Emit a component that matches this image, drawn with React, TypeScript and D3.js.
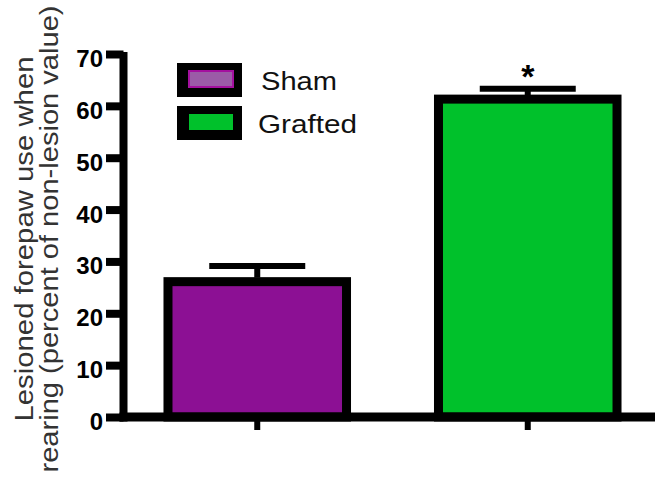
import { useRef, useEffect } from "react";
import * as d3 from "d3";

const groups = ["Sham", "Grafted"];
const values = [26.1, 61.3];
const errors = [3.0, 2.0];
const stars = ["", "*"];
const yTicks = [0, 10, 20, 30, 40, 50, 60, 70];
const barColors = ["#8c1094", "#00c12b"];
const swatchColors = ["#9b5ba7", "#00c12b"];
const titleLines = ["Lesioned forepaw use when", "rearing (percent of non-lesion value)"];

const width = 656;
const height = 484;
const font = "'Liberation Sans', Arial, Helvetica, sans-serif";

export default function App() {
  const root = useRef<SVGSVGElement>(null);

  const x = d3.scaleBand(groups, [122, 663]).paddingInner(0.34).paddingOuter(0.17);
  const y = d3.scaleLinear([0, 70], [417, 54]);

  useEffect(() => {
    const svg = d3.select(root.current);
    svg.selectAll("*").remove();

    // bars
    svg.append("g")
      .selectAll("rect")
      .data(groups)
      .enter()
      .append("rect")
      .attr("x", d => x(d)!)
      .attr("width", x.bandwidth())
      .attr("y", (d, i) => y(values[i]))
      .attr("height", (d, i) => y(0) - y(values[i]))
      .attr("fill", (d, i) => barColors[i])
      .attr("stroke", "#000")
      .attr("stroke-width", 9);

    // error bars
    const eb = svg.append("g").selectAll("g").data(groups).enter().append("g");
    eb.append("line")
      .attr("x1", d => x(d)! + x.bandwidth() / 2)
      .attr("x2", d => x(d)! + x.bandwidth() / 2)
      .attr("y1", (d, i) => y(values[i]) - 4)
      .attr("y2", (d, i) => y(values[i] + errors[i]))
      .attr("stroke", "#000")
      .attr("stroke-width", 6);
    eb.append("line")
      .attr("x1", d => x(d)! + x.bandwidth() / 2 - 48)
      .attr("x2", d => x(d)! + x.bandwidth() / 2 + 48)
      .attr("y1", (d, i) => y(values[i] + errors[i]))
      .attr("y2", (d, i) => y(values[i] + errors[i]))
      .attr("stroke", "#000")
      .attr("stroke-width", 6);
    eb.append("text")
      .attr("x", d => x(d)! + x.bandwidth() / 2)
      .attr("y", (d, i) => y(values[i] + errors[i]) - 1)
      .attr("text-anchor", "middle")
      .attr("font-family", font)
      .attr("font-weight", "bold")
      .attr("font-size", 34)
      .text((d, i) => stars[i]);

    // y axis
    const ya = svg.append("g")
      .attr("transform", "translate(123.5,0)")
      .call(d3.axisLeft(y).tickValues(yTicks).tickSize(17.5).tickSizeOuter(0).tickPadding(3));
    ya.select(".domain").remove();
    ya.selectAll(".tick line").attr("stroke", "#000").attr("stroke-width", 8);
    ya.selectAll(".tick text")
      .attr("font-family", font)
      .attr("font-weight", "bold")
      .attr("font-size", 24)
      .attr("fill", "#000")
      .attr("dy", "0.52em");
    svg.append("line")
      .attr("x1", 123.5).attr("x2", 123.5)
      .attr("y1", y(70) - 2).attr("y2", y(0) + 4.5)
      .attr("stroke", "#000").attr("stroke-width", 8);

    // x axis
    const xa = svg.append("g")
      .attr("transform", `translate(0,${y(0)})`)
      .call(d3.axisBottom(x).tickSize(13).tickFormat(() => ""));
    xa.select(".domain").remove();
    xa.selectAll(".tick line").attr("stroke", "#000").attr("stroke-width", 6);
    svg.append("line")
      .attr("x1", 119.5).attr("x2", 655)
      .attr("y1", y(0)).attr("y2", y(0))
      .attr("stroke", "#000").attr("stroke-width", 9);

    // y title
    const lens = [365, 467];
    svg.append("g")
      .selectAll("text")
      .data(titleLines)
      .enter()
      .append("text")
      .attr("transform", (d, i) => `translate(${33 + i * 25},239) rotate(-90)`)
      .attr("text-anchor", "middle")
      .attr("font-family", font)
      .attr("font-size", 26)
      .attr("fill", "#333")
      .attr("textLength", (d, i) => lens[i])
      .attr("lengthAdjust", "spacingAndGlyphs")
      .text(d => d);

    // legend
    const lg = svg.append("g").selectAll("g").data(groups).enter().append("g")
      .attr("transform", (d, i) => `translate(177,${63 + i * 43})`);
    lg.append("rect").attr("width", 65).attr("height", 34).attr("fill", "#000");
    lg.append("rect")
      .attr("x", 12).attr("y", 8).attr("width", 44).attr("height", 16)
      .attr("fill", (d, i) => swatchColors[i])
      .attr("stroke", (d, i) => (i === 0 ? "#a4109f" : "none"))
      .attr("stroke-width", 2);
    lg.append("text")
      .attr("x", (d, i) => (i === 0 ? 84 : 81))
      .attr("y", 27)
      .attr("font-family", font)
      .attr("font-size", 25)
      .attr("fill", "#111")
      .attr("textLength", (d, i) => (i === 0 ? 76 : 99))
      .attr("lengthAdjust", "spacingAndGlyphs")
      .text(d => d);
  }, []);

  return (
    <svg ref={root} width={width} height={height}
      style={{ position: "absolute", left: 0, top: 0, background: "#fff" }} />
  );
}
